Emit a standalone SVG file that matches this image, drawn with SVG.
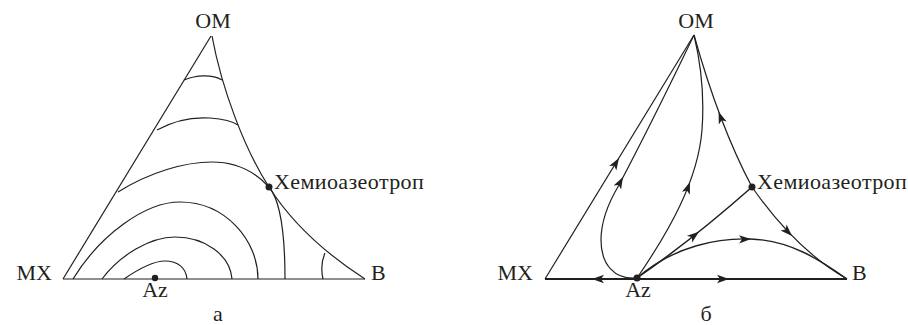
<svg xmlns="http://www.w3.org/2000/svg" xmlns:xlink="http://www.w3.org/1999/xlink" width="908" height="325" viewBox="0 0 908 325">
<style>
.ln{fill:none;stroke:#231f20;stroke-width:1.2}
.th{fill:none;stroke:#231f20;stroke-width:2}
.lb{font-family:"Liberation Serif","Times New Roman",serif;font-size:22px;fill:#231f20}
.hm{letter-spacing:0.4px}
.dt{fill:#231f20}
</style>
<defs>
<path id="ah" d="M0,0 L-12,-4.2 L-9,0 L-12,4.2 Z" fill="#231f20"/>
</defs>
<rect width="908" height="325" fill="#fff"/>
<g id="diagram-a">
<g id="connectors-a">
<path class="ln" d="M63,279 L211,36"/>
<path class="ln" d="M63,279 L365,279"/>
<path class="ln" d="M212,36 C222,90 245,150 269,187 C290,220 320,250 365,279"/>
<path class="ln" d="M124,279 C140,268 155,261 165,261 C178,261 186,268 187,279"/>
<path class="ln" d="M102,279 C120,255 150,237 175,237 C205,237 230,255 232,279"/>
<path class="ln" d="M73,279 C100,235 145,202 180,202 C225,202 258,240 258,279"/>
<path class="ln" d="M118,192 C150,172 185,162 212,162 C240,162 258,175 269,187 C280,200 285,230 285,279"/>
<path class="ln" d="M157,130 C175,120 195,117 210,118 C222,119 232,121 238,125"/>
<path class="ln" d="M184,80 C196,75 212,74 222,80"/>
<path class="ln" d="M325,253 C321,262 321,270 323,279"/>
</g>
<g id="a-OM"><text class="lb" x="213" y="28" text-anchor="middle">OM</text></g>
<g id="a-MX"><text class="lb" x="52" y="280" text-anchor="end">MX</text></g>
<g id="a-B"><text class="lb" x="371" y="280">B</text></g>
<g id="a-Az"><circle class="dt" cx="155" cy="278" r="3.2"/><text class="lb" x="155" y="297" text-anchor="middle">Az</text></g>
<g id="a-hemi"><circle class="dt" cx="269" cy="187" r="3.5"/><text class="lb hm" x="274" y="189">Хемиоазеотроп</text></g>
<g id="a-caption"><text class="lb" x="218" y="321" text-anchor="middle">а</text></g>
</g>
<g id="diagram-b">
<g id="connectors-b">
<path class="th" d="M545,279 L847,279"/>
<path class="ln" d="M545,279 L694,35"/>
<path class="ln" d="M637,278 C615,280 601,265 601,240 C601,218 610,200 619,185 C640,145 670,85 694,35"/>
<path class="ln" d="M637,278 C670,230 698,180 702,130 C705,90 700,60 694,35"/>
<path class="ln" d="M752,187 C735,155 715,110 694,35"/>
<path class="ln" d="M752,187 C775,220 805,255 847,279"/>
<path class="ln" d="M637,278 Q692,240 752,187" style="stroke-width:1.5"/>
<path class="ln" d="M637,278 C675,245 720,238 750,239 C790,240 820,260 847,279" style="stroke-width:1.4"/>
<use xlink:href="#ah" transform="translate(619,158) rotate(-58.6)"/>
<use xlink:href="#ah" transform="translate(623,177) rotate(-62)"/>
<use xlink:href="#ah" transform="translate(690,182) rotate(-70)"/>
<use xlink:href="#ah" transform="translate(718.6,111.7) rotate(-110.3)"/>
<use xlink:href="#ah" transform="translate(792,236) rotate(45.5)"/>
<use xlink:href="#ah" transform="translate(699,231.7) rotate(-38.4)"/>
<use xlink:href="#ah" transform="translate(751,239) rotate(-2)"/>
<use xlink:href="#ah" transform="translate(592,279) rotate(180)"/>
<use xlink:href="#ah" transform="translate(729,279)"/>
</g>
<g id="b-OM"><text class="lb" x="696" y="28" text-anchor="middle">OM</text></g>
<g id="b-MX"><text class="lb" x="533" y="280" text-anchor="end">MX</text></g>
<g id="b-B"><text class="lb" x="852" y="280">B</text></g>
<g id="b-Az"><circle class="dt" cx="637" cy="278" r="3.5"/><text class="lb" x="638" y="297" text-anchor="middle">Az</text></g>
<g id="b-hemi"><circle class="dt" cx="752" cy="187" r="3.5"/><text class="lb hm" x="757" y="189">Хемиоазеотроп</text></g>
<g id="b-caption"><text class="lb" x="706" y="321" text-anchor="middle">б</text></g>
</g>
</svg>
